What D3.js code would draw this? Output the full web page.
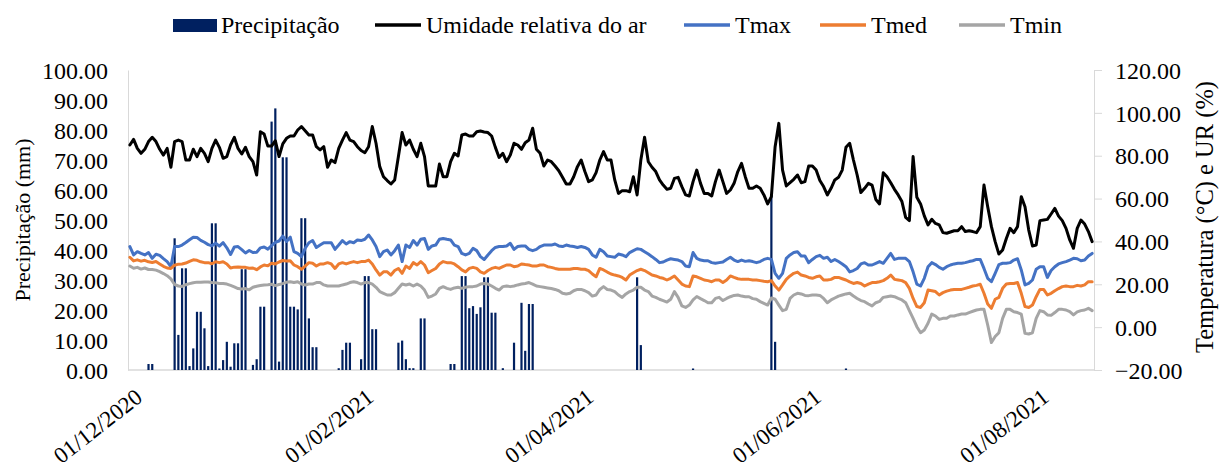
<!DOCTYPE html>
<html>
<head>
<meta charset="utf-8">
<script src="https://cdn.jsdelivr.net/npm/d3@7"></script>
</head>
<body style="margin:0">
<svg id="chart" width="1220" height="470" style="font-family: 'Liberation Serif', 'Times New Roman', serif"></svg>
<script>
// Daily series, 01/12/2020 .. 16/08/2021 (259 days)
const firstDay = new Date(Date.UTC(2020, 11, 1));
const lastDay = new Date(Date.UTC(2021, 7, 16));

// Precipitação (mm)
const precipitacao = [
  0, 0, 0, 0, 0, 2.0, 2.0, 0, 0, 0,
  0, 0, 43.9, 11.7, 33.9, 33.9, 1.3, 7.2, 19.4, 19.4,
  13.9, 1.3, 48.9, 48.9, 0.5, 3.3, 9.4, 1.1, 8.9, 8.9,
  33.6, 33.6, 0, 1.7, 3.6, 21.1, 21.1, 0, 82.8, 87.2,
  2.8, 70.9, 70.9, 21.1, 21.1, 20.2, 50.6, 50.6, 17.2, 7.6,
  7.6, 0, 0, 0, 0, 0, 0.6, 6.7, 9.1, 9.1,
  0, 0, 3.6, 31.3, 31.3, 13.6, 13.6, 0, 0, 0,
  0, 0, 9.1, 9.8, 3.6, 0.6, 0.6, 0, 17.2, 17.2,
  0, 0, 0, 0, 0, 0, 2.0, 2.0, 0, 31.3,
  31.3, 20.6, 21.3, 18.7, 20.9, 30.9, 30.9, 19.1, 19.1, 0,
  0.6, 0, 0, 9.1, 0, 22.4, 6.4, 22.0, 22.0, 0,
  0, 0, 0, 0, 0, 0, 0, 0, 0, 0,
  0, 0, 0, 0, 0, 0, 0, 0, 0, 0,
  0, 0, 0, 0, 0, 0, 30.9, 8.3, 0, 0,
  0, 0, 0, 0, 0, 0, 0, 0, 0, 0,
  0, 0.5, 0, 0, 0, 0, 0, 0, 0, 0,
  0, 0, 0, 0, 0, 0, 0, 0, 0, 0,
  0, 0, 58.3, 9.4, 0, 0, 0, 0, 0, 0,
  0, 0, 0, 0, 0, 0, 0, 0, 0, 0,
  0, 0, 0.5, 0, 0, 0, 0, 0, 0, 0,
  0, 0, 0, 0, 0, 0, 0, 0, 0, 0,
  0, 0, 0, 0, 0, 0, 0, 0, 0, 0,
  0, 0, 0, 0, 0, 0, 0, 0, 0, 0,
  0, 0, 0, 0, 0, 0, 0, 0, 0, 0,
  0, 0, 0, 0, 0, 0, 0, 0, 0, 0,
  0, 0, 0, 0, 0, 0, 0, 0, 0
];

// Umidade relativa do ar (%)
const umidade = [
  85.0, 87.6, 83.4, 81.1, 83.0, 86.6, 88.6, 86.6, 83.0, 80.3, 83.4, 74.6, 86.6, 87.3, 86.6, 78.0, 78.0, 83.0, 79.6, 83.4, 81.1, 77.2,
  83.4, 87.3, 83.9, 78.8, 79.6, 85.0, 88.6, 83.4, 80.8, 83.9, 79.6, 77.2, 71.0, 91.2, 90.1, 84.5, 84.5, 87.0, 79.6, 85.5, 88.1, 89.2,
  89.2, 92.0, 93.6, 91.7, 89.7, 89.7, 84.2, 82.7, 84.2, 74.6, 78.0, 76.8, 83.4, 87.3, 90.8, 87.3, 86.6, 84.2, 82.4, 81.4, 84.2,
  93.6, 85.8, 74.9, 70.2, 68.4, 66.8, 68.7, 79.6, 90.8, 85.0, 87.3, 83.0, 79.6, 85.8, 79.6, 65.9, 65.9, 65.9, 76.1, 70.2, 70.2,
  77.2, 81.1, 79.9, 89.7, 90.1, 89.2, 89.2, 91.2, 91.5, 91.1, 90.8, 89.2, 83.9, 79.2, 81.1, 77.2, 80.3, 85.8, 85.0, 83.0, 86.1, 87.3,
  92.8, 83.0, 81.1, 75.2, 78.0, 77.2, 75.2, 73.0, 69.9, 66.8, 66.8, 70.2, 74.9, 78.0, 72.6, 67.9, 68.7, 72.1, 78.0, 81.9, 78.0,
  78.0, 68.7, 62.4, 63.7, 63.7, 63.2, 70.2, 61.7, 78.0, 88.6, 77.2, 74.6, 72.6, 68.7, 66.3, 64.3, 64.8, 69.4, 69.9, 65.6, 61.7, 61.2,
  67.9, 73.3, 67.1, 62.4, 62.4, 61.2, 67.9, 73.3, 67.9, 62.4, 64.0, 67.1, 72.6, 76.4, 70.2, 64.8, 64.8, 65.9, 64.8, 61.7, 57.5,
  60.9, 84.2, 95.1, 73.3, 65.9, 67.4, 69.0, 71.0, 67.4, 67.9, 75.2, 75.2, 73.3, 68.4, 65.6, 61.7, 64.8, 68.7, 69.9, 73.3, 83.9, 85.8,
  78.0, 71.0, 62.8, 64.8, 67.1, 66.3, 59.6, 57.5, 72.1, 70.2, 67.4, 64.3, 61.7, 58.6, 51.2, 49.7, 79.6, 60.6, 57.5, 51.9, 47.7,
  50.3, 48.4, 47.7, 44.1, 43.8, 44.4, 45.0, 45.0, 46.9, 44.6, 45.0, 44.6, 44.1, 46.9, 66.3, 56.2, 46.9, 39.9, 34.1, 36.0, 41.4, 46.1,
  44.1, 46.9, 60.9, 56.2, 45.3, 37.9, 38.3, 49.7, 50.0, 50.3, 52.8, 55.4, 51.8, 49.7, 46.1, 40.7, 36.8, 46.1, 50.0, 48.1, 44.6, 39.9
];

// Tmax (°C)
const tmax = [
  37.6, 33.7, 35.2, 34.4, 33.7, 34.8, 32.1, 34.0, 33.5, 32.0, 30.6, 28.2, 37.6, 37.6, 38.3, 39.5, 40.8, 42.0, 41.8, 40.5, 39.6, 38.5,
  38.0, 39.2, 37.8, 39.4, 37.0, 33.9, 37.4, 37.6, 36.2, 34.6, 35.8, 34.8, 35.0, 37.0, 37.4, 36.4, 38.0, 39.6, 40.2, 42.5, 40.0, 42.0,
  35.2, 34.4, 32.9, 36.8, 39.4, 40.4, 37.2, 38.3, 39.4, 39.4, 39.4, 36.3, 38.3, 40.4, 38.8, 39.9, 39.4, 40.7, 40.4, 41.0, 43.0,
  40.7, 37.6, 32.9, 35.2, 36.0, 33.7, 35.7, 38.3, 30.6, 38.3, 37.2, 40.4, 38.3, 41.0, 41.4, 36.3, 37.9, 38.3, 41.0, 41.4, 41.0,
  40.7, 38.3, 37.6, 34.4, 33.7, 34.4, 36.8, 35.7, 32.9, 31.6, 33.7, 35.7, 37.2, 37.6, 37.6, 37.9, 39.1, 36.3, 37.6, 37.9, 37.9, 36.3,
  35.7, 36.3, 37.6, 38.3, 38.3, 38.3, 38.8, 37.9, 37.6, 38.3, 37.9, 37.6, 37.2, 37.6, 37.2, 36.3, 33.7, 32.6, 36.3, 35.2, 33.2,
  32.9, 32.6, 34.1, 33.7, 32.9, 34.8, 35.7, 36.6, 36.3, 35.2, 34.1, 32.9, 31.6, 30.1, 30.4, 31.3, 31.9, 31.6, 31.3, 30.6, 28.5, 28.2,
  34.8, 32.1, 31.3, 31.0, 31.0, 30.1, 29.8, 30.1, 30.4, 31.6, 32.6, 31.3, 30.6, 31.3, 30.7, 31.0, 30.6, 30.1, 30.6, 31.6, 32.1,
  31.6, 25.1, 22.8, 25.1, 32.1, 33.7, 34.8, 35.2, 33.2, 33.2, 30.1, 31.6, 32.9, 33.5, 32.1, 32.6, 30.6, 31.6, 30.6, 29.5, 28.2, 25.8,
  26.4, 27.4, 29.5, 30.1, 29.0, 29.0, 29.8, 30.6, 29.8, 32.1, 34.4, 31.6, 32.1, 32.1, 32.1, 30.6, 25.8, 20.1, 19.2, 22.8, 28.2,
  30.1, 29.2, 27.9, 27.0, 28.2, 29.0, 29.5, 29.8, 29.8, 30.1, 30.6, 31.0, 31.6, 31.6, 27.4, 22.8, 21.2, 25.1, 29.2, 29.8, 29.8, 30.1,
  31.3, 31.9, 26.7, 19.7, 20.4, 22.0, 27.0, 28.2, 28.2, 23.2, 26.4, 28.2, 29.5, 30.1, 30.6, 31.3, 32.1, 31.9, 31.0, 31.3, 33.2, 34.4
];

// Tmed (°C)
const tmed = [
  32.6, 30.9, 31.4, 30.8, 31.2, 30.5, 30.2, 30.6, 29.5, 28.4, 27.6, 27.4, 28.9, 29.4, 29.5, 29.9, 30.7, 31.4, 31.2, 30.5, 30.1, 30.1,
  29.6, 30.5, 30.1, 30.5, 29.5, 27.6, 28.0, 28.1, 28.0, 27.9, 27.5, 27.6, 26.8, 28.1, 29.0, 28.6, 29.8, 29.5, 30.4, 31.1, 30.9, 31.0,
  29.0, 28.2, 27.0, 28.5, 30.1, 29.8, 28.5, 29.5, 29.5, 30.1, 29.5, 27.4, 29.5, 30.1, 29.5, 30.1, 30.6, 30.1, 30.6, 30.6, 31.3,
  29.5, 26.7, 24.3, 25.8, 25.8, 24.3, 26.4, 27.4, 25.1, 28.5, 27.4, 30.1, 29.0, 30.6, 29.0, 25.4, 26.4, 27.4, 29.5, 30.6, 30.1,
  30.1, 29.5, 28.2, 26.7, 25.8, 27.4, 27.9, 27.4, 25.8, 25.1, 26.4, 27.4, 27.9, 27.4, 28.2, 29.0, 29.0, 28.2, 28.5, 29.5, 29.2, 29.0,
  28.5, 28.5, 29.0, 29.0, 28.2, 27.9, 27.4, 27.0, 27.0, 27.0, 27.0, 27.4, 27.4, 27.0, 27.0, 26.4, 24.8, 23.5, 27.4, 26.7, 25.7,
  24.8, 24.3, 23.9, 23.2, 22.0, 24.3, 25.4, 26.4, 27.0, 26.4, 25.4, 24.3, 23.9, 23.2, 22.8, 22.0, 22.8, 23.9, 22.0, 20.1, 19.2, 18.9,
  23.9, 23.5, 22.8, 22.0, 21.7, 21.2, 22.0, 22.0, 20.8, 22.0, 23.9, 23.2, 22.6, 22.3, 22.3, 22.3, 22.0, 22.0, 21.7, 21.4, 21.2,
  21.7, 19.2, 17.3, 19.7, 22.3, 23.9, 25.1, 25.7, 24.3, 23.9, 23.2, 22.8, 23.5, 23.9, 22.0, 22.0, 22.3, 23.2, 23.2, 22.6, 22.0, 21.1,
  20.4, 20.8, 20.4, 19.2, 20.1, 20.8, 20.8, 21.2, 21.7, 22.8, 24.3, 22.3, 22.0, 21.7, 20.8, 18.1, 13.4, 9.6, 9.2, 11.4, 17.3,
  17.0, 16.6, 15.0, 16.1, 16.8, 17.3, 17.6, 17.6, 17.6, 18.1, 18.6, 19.2, 19.5, 20.0, 15.8, 10.8, 8.8, 13.0, 13.9, 18.1, 20.1, 20.4,
  20.4, 20.8, 15.8, 9.6, 9.2, 10.3, 14.2, 17.6, 17.6, 15.0, 15.8, 17.0, 18.0, 18.9, 19.2, 18.9, 18.9, 19.5, 19.2, 19.7, 21.2, 21.2
];

// Tmin (°C)
const tmin = [
  28.5, 27.5, 27.9, 27.1, 27.6, 26.9, 26.9, 26.6, 25.9, 25.0, 24.0, 22.5, 19.9, 19.2, 19.0, 19.8, 20.3, 20.7, 21.0, 20.9, 21.1, 21.1,
  20.8, 20.7, 20.4, 20.4, 20.1, 19.5, 18.8, 18.0, 17.8, 18.0, 17.4, 18.6, 19.1, 19.4, 19.7, 19.8, 20.0, 19.4, 19.9, 20.3, 21.0, 21.2,
  20.8, 21.2, 20.1, 19.7, 20.1, 20.1, 20.8, 20.8, 19.7, 19.2, 19.2, 19.2, 19.2, 19.7, 20.1, 20.8, 21.2, 20.8, 20.1, 20.8, 20.8,
  20.1, 18.6, 16.6, 15.8, 15.0, 15.0, 16.1, 18.1, 20.1, 19.7, 20.1, 19.2, 20.1, 19.2, 17.3, 13.9, 14.5, 15.5, 18.1, 18.9, 18.1,
  17.6, 18.3, 18.6, 18.1, 18.6, 18.9, 18.9, 19.2, 20.1, 20.4, 20.1, 19.2, 18.1, 17.3, 18.9, 19.2, 18.9, 19.2, 19.7, 20.1, 20.4, 20.8,
  20.1, 19.2, 18.9, 18.6, 18.3, 18.0, 17.6, 17.0, 15.8, 15.5, 15.8, 17.0, 17.6, 17.6, 17.0, 16.1, 14.5, 15.0, 17.6, 18.9, 17.6,
  17.3, 16.6, 15.0, 13.9, 15.5, 16.6, 17.3, 18.6, 18.6, 17.3, 16.6, 14.5, 13.9, 13.0, 12.4, 11.7, 13.0, 16.6, 13.9, 9.9, 9.2, 10.3,
  12.7, 14.3, 13.3, 12.4, 11.4, 11.4, 13.4, 13.9, 12.4, 13.4, 14.2, 14.8, 15.0, 14.5, 14.2, 14.2, 13.3, 13.0, 11.9, 11.1, 10.3,
  13.6, 13.0, 10.3, 7.7, 8.3, 13.4, 15.0, 15.8, 15.5, 14.8, 14.7, 15.0, 15.0, 14.8, 13.4, 11.4, 12.7, 13.6, 14.5, 15.0, 15.5, 15.8,
  14.5, 13.4, 12.4, 11.9, 10.8, 9.9, 11.4, 12.0, 13.9, 14.2, 14.5, 14.2, 13.4, 12.7, 11.4, 7.7, 4.1, 0.2, -2.6, -1.3, 1.8,
  6.1, 5.2, 3.6, 4.1, 4.1, 5.2, 5.2, 5.7, 6.1, 6.1, 6.8, 7.4, 8.0, 8.3, 8.3, 1.0, -7.2, -4.4, -2.6, 4.1, 8.3, 8.3,
  7.2, 6.8, 6.1, -2.9, -3.2, -2.6, 4.1, 7.7, 7.2, 5.7, 5.5, 6.8, 8.3, 8.3, 8.0, 7.2, 5.7, 7.1, 7.7, 8.0, 8.8, 7.7
];

// Axis ticks
const precipTicks = [0, 10, 20, 30, 40, 50, 60, 70, 80, 90, 100];
const tempTicks = [-20, 0, 20, 40, 60, 80, 100, 120];
const dateTicks = ["2020-12-01", "2021-02-01", "2021-04-01", "2021-06-01", "2021-08-01"];
const dateTickLabels = ["01/12/2020", "01/02/2021", "01/04/2021", "01/06/2021", "01/08/2021"];

// Legend entries
const legendNames = ["Precipitação", "Umidade relativa do ar", "Tmax", "Tmed", "Tmin"];
const legendColors = ["#002060", "#000000", "#4472C4", "#ED7D31", "#A5A5A5"];

// ---------------------------------------------------------------------------
const svg = d3.select("#chart");
const plot = { left: 128, right: 1094, top: 70, bottom: 370 };
const gridColor = "#d9d9d9";

// serif face and size for a text selection
function font(sel, size) {
  return sel.style("font-family", "Liberation Serif")
    .style("font-size", size + "px")
    .attr("fill", "#000");
}

const days = d3.utcDay.range(firstDay, d3.utcDay.offset(lastDay, 1));
const halfDay = 12 * 3600 * 1000;

const x = d3.scaleUtc()
  .domain([new Date(+firstDay - halfDay), new Date(+lastDay + halfDay)])
  .range([plot.left, plot.right]);
const yP = d3.scaleLinear().domain([0, 100]).range([plot.bottom, plot.top]);
const yT = d3.scaleLinear().domain([-20, 120]).range([plot.bottom, plot.top]);

// Left axis (precipitation)
const gL = svg.append("g")
  .attr("transform", `translate(${plot.left},0)`)
  .call(d3.axisLeft(yP).tickValues(precipTicks).tickFormat(d3.format(".2f"))
    .tickSize(0).tickPadding(20));
gL.attr("font-family", null).attr("font-size", null);
gL.select(".domain").attr("stroke", gridColor).attr("stroke-width", 1);
font(gL.selectAll("text"), 24).attr("dy", "0.34em");

// Right axis (temperature / RH)
const gR = svg.append("g")
  .attr("transform", `translate(${plot.right},0)`)
  .call(d3.axisRight(yT).tickValues(tempTicks).tickFormat(d3.format(".2f"))
    .tickSize(8).tickSizeOuter(0).tickPadding(13));
gR.attr("font-family", null).attr("font-size", null);
gR.select(".domain").attr("stroke", gridColor).attr("stroke-width", 1);
gR.selectAll(".tick line").attr("stroke", gridColor);
font(gR.selectAll("text"), 24).attr("dy", "0.34em");

// Bottom axis line
svg.append("line")
  .attr("x1", plot.left).attr("x2", plot.right)
  .attr("y1", plot.bottom).attr("y2", plot.bottom)
  .attr("stroke", gridColor).attr("stroke-width", 1.5);

// Date labels, rotated
const gX = svg.append("g");
dateTicks.forEach((d, i) => {
  const px = x(new Date(d + "T00:00:00Z"));
  font(gX.append("text"), 23)
    .attr("transform", `translate(${px + 14},400) rotate(-38)`)
    .attr("text-anchor", "end")
    .text(dateTickLabels[i]);
});

// Precipitation bars
const barW = 2.2;
svg.append("g").selectAll("rect")
  .data(precipitacao.map((v, i) => ({ d: days[i], v })).filter(o => o.v > 0))
  .join("rect")
  .attr("x", o => x(o.d) - barW / 2)
  .attr("y", o => yP(o.v))
  .attr("width", barW)
  .attr("height", o => yP(0) - yP(o.v))
  .attr("fill", legendColors[0]);

// Lines
const line = d3.line().x((v, i) => x(days[i])).y(v => yT(v));
[[umidade, 1], [tmax, 2], [tmed, 3], [tmin, 4]].forEach(([series, k]) => {
  svg.append("path")
    .datum(series)
    .attr("d", line)
    .attr("fill", "none")
    .attr("stroke", legendColors[k])
    .attr("stroke-width", 3)
    .attr("stroke-linejoin", "round")
    .attr("stroke-linecap", "round");
});

// Axis titles
font(svg.append("text"), 22)
  .attr("transform", `translate(30,${(plot.top + plot.bottom) / 2}) rotate(-90)`)
  .attr("text-anchor", "middle")
  .text("Precipitação (mm)");
font(svg.append("text"), 24.5)
  .attr("transform", `translate(1213,${(plot.top + plot.bottom) / 2 - 3}) rotate(-90)`)
  .attr("text-anchor", "middle")
  .text("Temperatura (°C) e UR (%)");

// Legend
const legendX = [173, 375, 684, 820, 959];
const legend = svg.append("g");
legendNames.forEach((name, i) => {
  const lx = legendX[i];
  if (i === 0) {
    legend.append("rect").attr("x", lx).attr("y", 19).attr("width", 44).attr("height", 13)
      .attr("fill", legendColors[0]);
  } else {
    legend.append("line").attr("x1", lx).attr("x2", lx + 46).attr("y1", 25).attr("y2", 25)
      .attr("stroke", legendColors[i]).attr("stroke-width", 3.5);
  }
  font(legend.append("text"), 24)
    .attr("x", lx + (i === 0 ? 48 : 51))
    .attr("y", 33)
    .text(name);
});
</script>
</body>
</html>
